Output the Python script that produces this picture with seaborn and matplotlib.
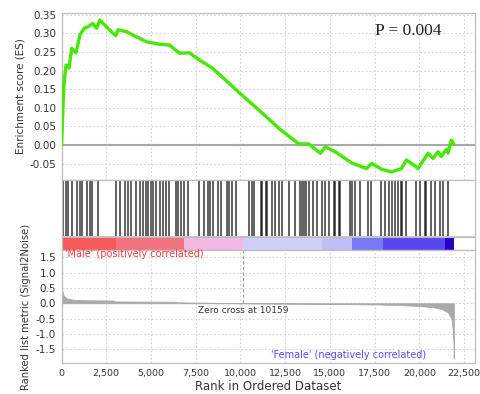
"""
GSEA enrichment plot: running ES, hit positions, ranked list metric.
"""

import numpy as np
import matplotlib
matplotlib.use("Agg")
import matplotlib.pyplot as plt
import seaborn as sns

# running enrichment score (rank, ES)
es_rank = [0, 100, 156, 250, 417, 567, 806, 1028, 1268, 1490, 1735, 1957, 2140,
           2585, 3030, 3158, 3625, 3975, 4737, 5477, 6033, 6589, 7145, 7700,
           8423, 9369, 9925, 11037, 12149, 13261, 13817, 14467, 14745, 15301,
           16224, 17058, 17336, 17892, 18448, 19004, 19282, 19560, 19933,
           20489, 20767, 21045, 21228, 21506, 21601, 21784, 21930]
es_val = [0.0, 0.13, 0.175, 0.215, 0.207, 0.26, 0.248, 0.296, 0.314, 0.318,
          0.327, 0.314, 0.336, 0.314, 0.294, 0.31, 0.305, 0.296, 0.278, 0.271,
          0.269, 0.247, 0.248, 0.229, 0.207, 0.166, 0.141, 0.094, 0.045, 0.003,
          0.003, -0.022, -0.005, -0.018, -0.048, -0.063, -0.049, -0.065,
          -0.072, -0.063, -0.04, -0.049, -0.063, -0.022, -0.036, -0.018,
          -0.031, -0.012, -0.022, 0.013, 0.003]

# gene set hit positions in the ranked list
hit_ranks = [100, 234, 378, 567, 878, 1029, 1140, 1401, 1585, 1696, 2046, 3069,
             3253, 3531, 3714, 3903, 4181, 4365, 4548, 4737, 4826, 5015, 5104,
             5293, 5477, 5660, 5849, 6033, 6405, 6494, 6683, 6867, 7050, 7701,
             7979, 8162, 8296, 8440, 8718, 8907, 9274, 9369, 9552, 9741, 10481,
             10631, 10759, 11131, 11220, 11409, 11498, 11743, 11926, 12149,
             12299, 12705, 13077, 13355, 13444, 13539, 13666, 13817, 14039,
             14278, 14556, 14706, 14929, 15207, 15301, 15485, 15579, 16135,
             16263, 16413, 16691, 17114, 17303, 17859, 18081, 18304, 18487,
             18637, 18821, 18971, 19043, 19282, 19838, 20027, 20305, 20394,
             20672, 20861, 21139, 21323, 21601]

# colour bar segments (rank edges) and colours
bar_edges = [0, 3030, 6870, 10159, 14540, 16210, 17990, 21430, 21930]
bar_colors = ["#f75a5a", "#f2737f", "#f4b8e4", "#cfcffa", "#bfbff8",
              "#7878f8", "#5a46ee", "#2a00c8"]

# ranked list metric (rank, value)
metric_rank = [0, 30, 80, 150, 300, 600, 1200, 2900, 3000, 6400, 6500, 8000,
               10159, 12000, 15000, 17800, 19000, 20000, 20800, 21300, 21600,
               21800, 21880, 21920, 21930]
metric_val = [0.75, 0.45, 0.3, 0.22, 0.16, 0.12, 0.1, 0.09, 0.06, 0.05, 0.03,
              0.02, 0.0, -0.01, -0.02, -0.04, -0.06, -0.09, -0.13, -0.2, -0.3,
              -0.5, -0.9, -1.4, -1.8]

ZERO_CROSS = 10159
XMAX = 23100
GRID = "#d4d4d4"
SPINE = "#bdbdbd"
TXT = "#333333"

sns.set_style("white")
plt.rcParams.update({
    "font.family": "DejaVu Sans",
    "xtick.labelsize": 6.8,
    "ytick.labelsize": 7.5,
    "xtick.color": TXT,
    "ytick.color": TXT,
})

fig = plt.figure(figsize=(4.81, 3.94), dpi=100)
L, W = 0.128, 0.859
ax_es = fig.add_axes([L, 0.543, W, 0.424])
ax_hit = fig.add_axes([L, 0.3655, W, 0.1775])
ax_m = fig.add_axes([L, 0.0787, W, 0.2868])

xt = np.arange(0, 22501, 2500)

# --- top: enrichment score
ax_es.axhline(0, color="#a8a8a8", lw=1.5, zorder=1)
sns.lineplot(x=es_rank, y=es_val, ax=ax_es, color="#45e800", lw=2.4,
             sort=False, zorder=3)
ax_es.set_xlim(0, XMAX)
ax_es.set_ylim(-0.094, 0.355)
ax_es.set_yticks(np.arange(-0.05, 0.351, 0.05))
ax_es.set_yticklabels([f"{v:.2f}" for v in np.arange(-0.05, 0.351, 0.05)])
ax_es.set_xticks(xt)
ax_es.tick_params(axis="x", labelbottom=False, length=0)
ax_es.tick_params(axis="y", length=2, pad=2)
ax_es.grid(True, color=GRID, linestyle=(0, (1.5, 2)), lw=0.8)
ax_es.set_ylabel("Enrichment score (ES)", fontsize=7.5, color=TXT, labelpad=3)
ax_es.set_xlabel("")
ax_es.text(19380, 0.307, "P = 0.004", family="Liberation Serif",
           fontsize=12.5, ha="center", va="center", color="#222222")

# --- middle: hits + colour bar
ax_hit.vlines(hit_ranks, 0.2, 1.0, color="black", lw=1.2, alpha=0.72)
lefts = bar_edges[:-1]
widths = [b - a for a, b in zip(bar_edges[:-1], bar_edges[1:])]
ax_hit.barh([0.095] * len(widths), widths, left=lefts, height=0.19,
            color=bar_colors, edgecolor="none")
ax_hit.axhline(0.19, color=SPINE, lw=0.8)
ax_hit.axhline(0.2, color=SPINE, lw=0.6)
ax_hit.set_xlim(0, XMAX)
ax_hit.set_ylim(0, 1)
ax_hit.set_xticks([])
ax_hit.set_yticks([])

# --- bottom: ranked list metric
ax_m.fill_between(metric_rank, metric_val, 0, color="#aaaaaa", lw=0.6,
                  edgecolor="#aaaaaa")
ax_m.axvline(ZERO_CROSS, ymin=0.53, ymax=1.0, color="#999999", lw=0.8,
             linestyle=(0, (3, 2)))
ax_m.set_xlim(0, XMAX)
ax_m.set_ylim(-1.95, 1.74)
ax_m.set_yticks(np.arange(-1.5, 1.51, 0.5))
ax_m.set_yticklabels([f"{v:.1f}" for v in np.arange(-1.5, 1.51, 0.5)])
ax_m.set_xticks(xt)
ax_m.set_xticklabels([f"{v:,}" for v in xt])
ax_m.tick_params(length=2, pad=2)
ax_m.grid(True, color=GRID, linestyle=(0, (1.5, 2)), lw=0.8)
ax_m.set_ylabel("Ranked list metric (Signal2Noise)", fontsize=7.2, color=TXT,
                labelpad=3)
ax_m.set_xlabel("Rank in Ordered Dataset", fontsize=8.5, color=TXT, labelpad=2)
ax_m.text(ZERO_CROSS, -0.08, f"Zero cross at {ZERO_CROSS}", fontsize=6.5,
          ha="center", va="top", color=TXT)
ax_m.text(180, 1.6, "'Male' (positively correlated)", fontsize=7,
          color="#ff3c3c", ha="left", va="center")
ax_m.text(11700, -1.7, "'Female' (negatively correlated)", fontsize=7,
          color="#5050ff", ha="left", va="center")

for a in (ax_es, ax_hit, ax_m):
    for s in a.spines.values():
        s.set_color(SPINE)
        s.set_linewidth(0.9)

fig.savefig("out.png", dpi=100)
